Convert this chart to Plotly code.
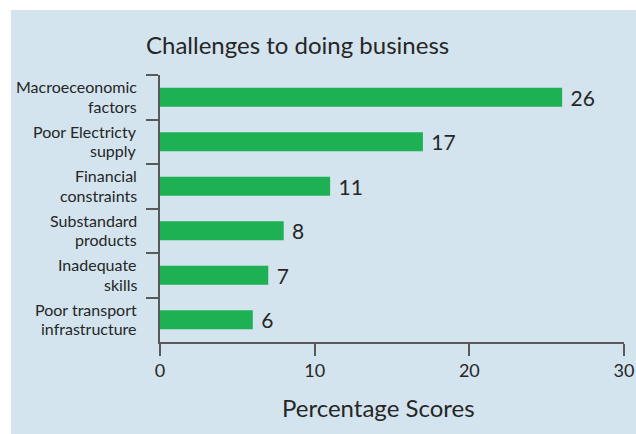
import plotly.graph_objects as go

# Survey results: share of respondents naming each obstacle
categories = [
    "Macroeceonomic factors",
    "Poor Electricty supply",
    "Financial constraints",
    "Substandard products",
    "Inadequate skills",
    "Poor transport infrastructure",
]
# each category label is set on two lines
label_lines = [
    ("Macroeceonomic", "factors"),
    ("Poor Electricty", "supply"),
    ("Financial", "constraints"),
    ("Substandard", "products"),
    ("Inadequate", "skills"),
    ("Poor transport", "infrastructure"),
]
scores = [26, 17, 11, 8, 7, 6]

W, H = 636, 434
L, R, T, B = 160, 12, 75, 92
pw, ph = W - L - R, H - T - B

panel = "#d3e4ee"
bar_color = "#1db153"
ink = "#262626"
axis_col = "#595959"
font = "Lato, 'Open Sans', sans-serif"

fig = go.Figure(
    go.Bar(
        x=scores,
        y=categories,
        orientation="h",
        width=0.43,
        marker=dict(color=bar_color, line=dict(width=0)),
        text=[f" {v}" for v in scores],
        textposition="outside",
        constraintext="none",
        outsidetextfont=dict(family=font, size=21, color=ink),
        cliponaxis=False,
        hoverinfo="skip",
    )
)

# light-blue panel behind the whole chart, inset from the top-left corner
px2x = lambda px: (px - L) / pw
py2y = lambda py: (H - B - py) / ph
fig.add_shape(
    type="rect", xref="paper", yref="paper", layer="below",
    x0=px2x(11), x1=px2x(W + 2), y0=py2y(H + 2), y1=py2y(10),
    fillcolor=panel, line=dict(width=0),
)

# two-line category labels, right-aligned against the axis
for cat, (top, bottom) in zip(categories, label_lines):
    for line, shift in ((top, 10.5), (bottom, -9)):
        fig.add_annotation(
            text=line, xref="paper", yref="y", x=px2x(139), y=cat,
            yshift=shift, xanchor="right", yanchor="middle",
            showarrow=False, font=dict(family=font, size=16, color=ink),
        )

fig.add_annotation(
    text="Challenges to doing business", xref="paper", yref="paper",
    x=px2x(144), y=py2y(45), xanchor="left", yanchor="middle",
    showarrow=False, font=dict(family=font, size=24, color=ink),
)
fig.add_annotation(
    text="Percentage Scores", xref="paper", yref="paper",
    x=px2x(378), y=py2y(407), xanchor="center", yanchor="middle",
    showarrow=False, font=dict(family=font, size=24, color=ink),
)

fig.update_layout(
    width=W, height=H,
    margin=dict(l=L, r=R, t=T, b=B, pad=0, autoexpand=False),
    paper_bgcolor="white",
    plot_bgcolor="rgba(0,0,0,0)",
    showlegend=False,
    font=dict(family=font, color=ink),
)
fig.update_xaxes(
    range=[0, 30], tickvals=[0, 10, 20, 30], automargin=False,
    showgrid=False, zeroline=False,
    showline=True, linecolor=axis_col, linewidth=1.5,
    ticks="outside", ticklen=12, tickwidth=1.5, tickcolor=axis_col,
    tickfont=dict(family=font, size=18, color=ink),
)
fig.update_yaxes(
    autorange="reversed", categoryorder="array", categoryarray=categories,
    automargin=False, showticklabels=False,
    showgrid=False, zeroline=False,
    showline=True, linecolor=axis_col, linewidth=1.5,
    ticks="outside", ticklen=12, tickwidth=1.5, tickcolor=axis_col,
    tickson="boundaries",
)

fig.write_html("out.html")
